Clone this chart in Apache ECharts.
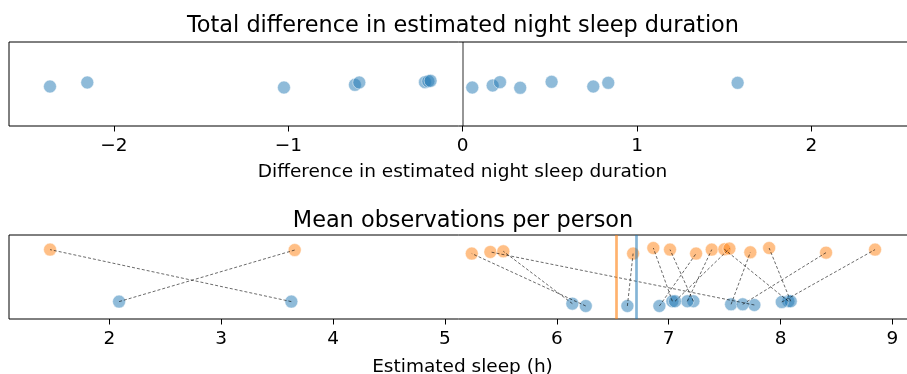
<!DOCTYPE html>
<html><head><meta charset="utf-8">
<script src="https://cdn.jsdelivr.net/npm/echarts@6/dist/echarts.min.js"></script>
<style>html,body{margin:0;padding:0;background:#fff}#c{width:907px;height:374px}</style>
</head><body><div id="c"></div>
<script>
// Top panel: per-person difference in estimated night sleep duration (h)
var diffValues = [-2.367, -2.153, -1.025, -0.618, -0.593, -0.216, -0.197, -0.184,
                  0.055, 0.172, 0.214, 0.330, 0.510, 0.749, 0.835, 1.577];
var diffJitter = [0.470, 0.518, 0.458, 0.490, 0.518, 0.522, 0.533, 0.538,
                  0.458, 0.482, 0.522, 0.455, 0.526, 0.470, 0.514, 0.514];
var diffTicks = [-2, -1, 0, 1, 2];

// Bottom panel: mean estimated sleep per person, two conditions (paired)
var blueSleep   = [3.627, 2.087, 6.259, 7.766, 6.139, 6.631, 7.033, 7.221,
                   6.917, 7.167, 8.070, 7.057, 7.558, 8.091, 7.662, 8.011];
var blueJitter  = [0.207, 0.207, 0.155, 0.167, 0.183, 0.155, 0.211, 0.211,
                   0.155, 0.211, 0.211, 0.211, 0.175, 0.211, 0.175, 0.202];
var orangeSleep = [1.470, 3.657, 5.240, 5.406, 5.522, 6.682, 6.863, 7.012,
                   7.245, 7.385, 7.498, 7.543, 7.730, 7.898, 8.407, 8.845];
var orangeJitter= [0.826, 0.821, 0.779, 0.798, 0.806, 0.779, 0.845, 0.826,
                   0.779, 0.826, 0.830, 0.838, 0.794, 0.845, 0.790, 0.826];
var blueMean = 6.711;
var orangeMean = 6.527;
var sleepTicks = [2, 3, 4, 5, 6, 7, 8, 9];

var FONT = 'DejaVu Sans';
var BLUE = '#1f77b4', ORANGE = '#ff7f0e';

function fmt(v){ return String(v).replace('-', '\u2212'); }

function xAxisCfg(gi, min, max, ticks, name, gap){
  return {
    type: 'value', gridIndex: gi, min: min, max: max,
    splitLine: {show: false},
    axisLine: {show: false},
    axisTick: {show: true, customValues: ticks, length: 5.5, inside: false,
               lineStyle: {color: '#000', width: 1}},
    axisLabel: {customValues: ticks, formatter: fmt, margin: 11,
                color: '#000', fontFamily: FONT, fontSize: 18.5},
    name: name, nameLocation: 'middle', nameGap: gap,
    nameTextStyle: {color: '#000', fontFamily: FONT, fontSize: 18.5}
  };
}

var series = [];
series.push({
  type: 'scatter', xAxisIndex: 0, yAxisIndex: 0, symbolSize: 13,
  itemStyle: {color: BLUE, opacity: 0.5, borderColor: '#fff', borderWidth: 1},
  data: diffValues.map(function(v, i){ return [v, diffJitter[i]]; }),
  markLine: {silent: true, symbol: 'none', label: {show: false},
    lineStyle: {color: 'rgba(0,0,0,0.55)', width: 1.5, type: 'solid'},
    data: [{xAxis: 0}]},
  z: 3
});
series.push({
  type: 'scatter', xAxisIndex: 1, yAxisIndex: 1, symbolSize: 13,
  itemStyle: {color: BLUE, opacity: 0.5, borderColor: '#fff', borderWidth: 1},
  data: blueSleep.map(function(v, i){ return [v, blueJitter[i]]; }),
  markLine: {silent: true, symbol: 'none', label: {show: false},
    lineStyle: {color: 'rgba(31,119,180,0.55)', width: 2.7, type: 'solid'},
    data: [{xAxis: blueMean}]},
  z: 2
});
series.push({
  type: 'scatter', xAxisIndex: 1, yAxisIndex: 1, symbolSize: 13,
  itemStyle: {color: ORANGE, opacity: 0.5, borderColor: '#fff', borderWidth: 1},
  data: orangeSleep.map(function(v, i){ return [v, orangeJitter[i]]; }),
  markLine: {silent: true, symbol: 'none', label: {show: false},
    lineStyle: {color: 'rgba(255,127,14,0.6)', width: 2.7, type: 'solid'},
    data: [{xAxis: orangeMean}]},
  z: 2
});
for (var i = 0; i < blueSleep.length; i++) {
  series.push({
    type: 'line', xAxisIndex: 1, yAxisIndex: 1, symbol: 'none', silent: true,
    lineStyle: {color: 'rgba(0,0,0,0.65)', width: 0.9, type: [3, 2]},
    data: [[blueSleep[i], blueJitter[i]], [orangeSleep[i], orangeJitter[i]]],
    z: 4
  });
}

var chart = echarts.init(document.getElementById('c'), null, {renderer: 'canvas'});
chart.setOption({
  animation: false,
  backgroundColor: '#fff',
  title: [
    {text: 'Total difference in estimated night sleep duration', left: 458, textAlign: 'center', top: 10,
     textStyle: {color: '#000', fontFamily: FONT, fontSize: 22.4, fontWeight: 'normal'}},
    {text: 'Mean observations per person', left: 458, textAlign: 'center', top: 205,
     textStyle: {color: '#000', fontFamily: FONT, fontSize: 22.4, fontWeight: 'normal'}}
  ],
  grid: [
    {left: 9, right: -9, top: 42, height: 84, show: true, borderColor: '#000', borderWidth: 1,
     backgroundColor: 'transparent', containLabel: false, outerBoundsMode: 'none'},
    {left: 9, right: -9, top: 235, height: 84, show: true, borderColor: '#000', borderWidth: 1,
     backgroundColor: 'transparent', containLabel: false, outerBoundsMode: 'none'}
  ],
  xAxis: [
    xAxisCfg(0, -2.602, 2.600, diffTicks, 'Difference in estimated night sleep duration', 37),
    xAxisCfg(1, 1.103, 9.211, sleepTicks, 'Estimated sleep (h)', 39)
  ],
  yAxis: [
    {type: 'value', gridIndex: 0, min: 0, max: 1, show: false},
    {type: 'value', gridIndex: 1, min: 0, max: 1, show: false}
  ],
  series: series
});
</script></body></html>
